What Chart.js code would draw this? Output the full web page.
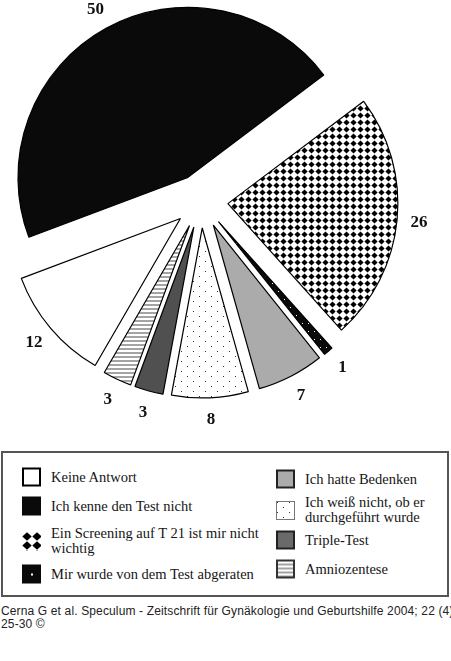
<!DOCTYPE html>
<html>
<head>
<meta charset="utf-8">
<script src="https://cdn.jsdelivr.net/npm/chart.js@4"></script>
<style>
  body { margin: 0; background: #fff; width: 451px; height: 661px; position: relative; overflow: hidden; }
  #chart-box { position: absolute; left: 0; top: 0; width: 451px; height: 440px; }
  #legend-box { position: absolute; left: 1px; top: 451px; width: 444px; height: 142px; border: 2px solid #555; }
  .item { position: absolute; display: flex; align-items: center; transform: translateY(-50%);
    font: 14.5px 'Liberation Serif', serif; line-height: 15px; color: #151515; }
  .item canvas { flex: none; margin-right: 10px; }
  #source { position: absolute; left: 1px; top: 605px; width: 450px;
    font: 12px 'Liberation Sans', Arial, sans-serif; line-height: 13px; color: #222; letter-spacing: 0.14px; }
  #source div { white-space: nowrap; overflow: hidden; }
</style>
</head>
<body>
<div id="chart-box"><canvas id="pie"></canvas></div>
<div id="legend-box"></div>
<div id="legend"></div>
<div id="source"></div>
<script>
// slices in clockwise order, starting at the checkered one
const categories = [
  'Ein Screening auf T 21 ist mir nicht wichtig',
  'Mir wurde von dem Test abgeraten',
  'Ich hatte Bedenken',
  'Ich weiß nicht, ob er durchgeführt wurde',
  'Triple-Test',
  'Amniozentese',
  'Keine Antwort',
  'Ich kenne den Test nicht'
]
const values = [26, 1, 7, 8, 3, 3, 12, 50]

const legendLeft = [
  'Keine Antwort',
  'Ich kenne den Test nicht',
  'Ein Screening auf T 21 ist mir nicht wichtig',
  'Mir wurde von dem Test abgeraten'
]
const legendRight = [
  'Ich hatte Bedenken',
  'Ich weiß nicht, ob er durchgeführt wurde',
  'Triple-Test',
  'Amniozentese'
]
const sourceLines = [
  'Cerna G et al. Speculum - Zeitschrift für Gynäkologie und Geburtshilfe 2004; 22 (4):',
  '25-30 ©'
]

const EXPLODE = 27
const LABEL_DIST = 219

const makeTile = (w, h, draw) => {
  const c = document.createElement('canvas')
  c.width = w
  c.height = h
  draw(c.getContext('2d'))
  return c
}

const tileCtx = document.createElement('canvas').getContext('2d')
const pattern = tile => tileCtx.createPattern(tile, 'repeat')

const diamondTile = (w, h, inset) => makeTile(w, h, g => {
  g.fillStyle = '#fff'
  g.fillRect(0, 0, w, h)
  g.fillStyle = '#000'
  g.beginPath()
  g.moveTo(w / 2, inset)
  g.lineTo(w - inset, h / 2)
  g.lineTo(w / 2, h - inset)
  g.lineTo(inset, h / 2)
  g.closePath()
  g.fill()
})
const checkerTile = diamondTile(7, 7, 0.4)
const bigCheckerTile = diamondTile(10, 9, 0.3)
const dotsTile = makeTile(12, 10, g => {
  g.fillStyle = '#fff'
  g.fillRect(0, 0, 12, 10)
  g.fillStyle = '#333'
  g.fillRect(1, 1, 1, 1)
  g.fillRect(7, 6, 1, 1)
})
const stripesTile = makeTile(1, 4, g => {
  g.fillStyle = '#fff'
  g.fillRect(0, 0, 1, 4)
  g.fillStyle = '#a4a4a4'
  g.fillRect(0, 0, 1, 2)
})
const blackDotsTile = makeTile(6, 8, g => {
  g.fillStyle = '#0a0a0a'
  g.fillRect(0, 0, 6, 8)
  g.fillStyle = '#fff'
  g.fillRect(2, 3, 1, 1)
})

const fills = {
  'Keine Antwort': '#fff',
  'Ich kenne den Test nicht': '#0a0a0a',
  'Ein Screening auf T 21 ist mir nicht wichtig': pattern(checkerTile),
  'Mir wurde von dem Test abgeraten': pattern(blackDotsTile),
  'Ich hatte Bedenken': '#ababab',
  'Ich weiß nicht, ob er durchgeführt wurde': pattern(dotsTile),
  'Triple-Test': '#505050',
  'Amniozentese': pattern(stripesTile)
}
// the legend swatches are drawn a little differently from the slices
const swatchFills = Object.assign({}, fills, {
  'Ein Screening auf T 21 ist mir nicht wichtig': pattern(bigCheckerTile),
  'Mir wurde von dem Test abgeraten': '#0a0a0a',
  'Triple-Test': '#6a6a6a'
})
const swatchBorders = {
  'Keine Antwort': ['#000', 2],
  'Ich kenne den Test nicht': ['#0a0a0a', 1],
  'Ein Screening auf T 21 ist mir nicht wichtig': null,
  'Mir wurde von dem Test abgeraten': ['#0a0a0a', 1],
  'Ich hatte Bedenken': ['#222', 2],
  'Ich weiß nicht, ob er durchgeführt wurde': ['#777', 1],
  'Triple-Test': ['#222', 2],
  'Amniozentese': ['#333', 2]
}

// push every slice out along its bisector, like the printed figure
const explode = {
  id: 'explode',
  beforeDatasetsDraw(chart) {
    chart.getDatasetMeta(0).data.forEach(arc => {
      const mid = (arc.startAngle + arc.endAngle) / 2
      arc._base = [arc.x, arc.y]
      arc.x += Math.cos(mid) * EXPLODE
      arc.y += Math.sin(mid) * EXPLODE
    })
  },
  afterDatasetsDraw(chart) {
    chart.getDatasetMeta(0).data.forEach(arc => {
      [arc.x, arc.y] = arc._base
    })
  }
}

const valueLabels = {
  id: 'valueLabels',
  afterDatasetsDraw(chart) {
    const ctx = chart.ctx
    const ds = chart.data.datasets[0]
    ctx.save()
    ctx.font = 'bold 17px "Liberation Serif", serif'
    ctx.fillStyle = '#111'
    ctx.textAlign = 'center'
    ctx.textBaseline = 'middle'
    chart.getDatasetMeta(0).data.forEach((arc, i) => {
      const mid = (arc.startAngle + arc.endAngle) / 2
      ctx.fillText(String(ds.data[i]), arc.x + Math.cos(mid) * LABEL_DIST, arc.y + Math.sin(mid) * LABEL_DIST)
    })
    ctx.restore()
  }
}

new Chart(document.getElementById('pie'), {
  type: 'pie',
  data: {
    labels: categories,
    datasets: [{
      data: values,
      backgroundColor: categories.map(c => fills[c]),
      borderColor: '#000',
      borderWidth: 1.2
    }]
  },
  options: {
    responsive: true,
    maintainAspectRatio: false,
    animation: false,
    events: [],
    rotation: 53,
    radius: 170,
    layout: { padding: { right: 49, bottom: 38 } },
    plugins: {
      legend: { display: false },
      tooltip: { enabled: false }
    }
  },
  plugins: [explode, valueLabels]
})

const drawSwatch = (name) => {
  const c = document.createElement('canvas')
  c.width = 19
  c.height = 19
  const g = c.getContext('2d')
  g.fillStyle = swatchFills[name]
  g.fillRect(0, 0, 19, 19)
  if (name === 'Mir wurde von dem Test abgeraten') {
    g.fillStyle = '#fff'
    g.fillRect(9, 9, 2, 2)
  }
  const b = swatchBorders[name]
  if (b) {
    g.strokeStyle = b[0]
    g.lineWidth = b[1]
    g.strokeRect(b[1] / 2, b[1] / 2, 19 - b[1], 19 - b[1])
  }
  return c
}

const legendEl = document.getElementById('legend')
const addColumn = (names, x, centers, textWidth) => {
  names.forEach((name, i) => {
    const item = document.createElement('div')
    item.className = 'item'
    item.style.left = x + 'px'
    item.style.top = centers[i] + 'px'
    item.appendChild(drawSwatch(name))
    const span = document.createElement('span')
    span.style.maxWidth = textWidth + 'px'
    span.textContent = name
    item.appendChild(span)
    legendEl.appendChild(item)
  })
}
addColumn(legendLeft, 22, [476.5, 506, 541, 574], 215)
addColumn(legendRight, 276, [478.5, 510, 540, 568.5], 135)

const sourceEl = document.getElementById('source')
sourceLines.forEach(line => {
  const d = document.createElement('div')
  d.textContent = line
  sourceEl.appendChild(d)
})
</script>
</body>
</html>
